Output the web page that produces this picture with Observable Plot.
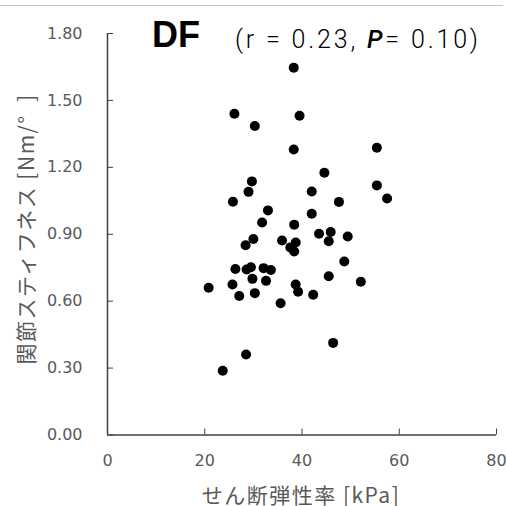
<!DOCTYPE html>
<html><head><meta charset="utf-8">
<script src="https://cdn.jsdelivr.net/npm/d3@7"></script>
<script src="https://cdn.jsdelivr.net/npm/@observablehq/plot@0.6"></script>
<style>
body{margin:0;background:#fff;}
#wrap{position:relative;width:506px;height:506px;overflow:hidden;}
#wrap svg{position:absolute;left:0;top:0;}
#topline{position:absolute;left:0;top:5px;width:503px;height:1px;background:#c6c6c6;}
</style></head><body>
<div id="wrap"></div>
<script>
// せん断弾性率 [kPa]
const shearModulus = [38.3, 26.1, 30.3, 39.5, 38.3, 55.4, 44.6, 29.7, 29.0, 42.0, 55.4, 25.8, 47.6, 57.5, 33.0, 42.0, 31.8, 38.4, 43.5, 45.9, 49.4, 45.5, 30.0, 28.4, 35.9, 38.7, 37.6, 38.4, 48.7, 26.3, 28.6, 29.5, 32.1, 33.6, 29.8, 32.6, 25.7, 20.8, 27.1, 30.3, 38.7, 39.2, 42.3, 35.6, 45.5, 52.1, 46.4, 28.5, 23.7];
// 関節スティフネス [Nm/°]
const jointStiffness = [1.647, 1.440, 1.385, 1.431, 1.280, 1.288, 1.176, 1.137, 1.090, 1.092, 1.119, 1.046, 1.045, 1.060, 1.007, 0.992, 0.953, 0.943, 0.902, 0.910, 0.890, 0.869, 0.879, 0.851, 0.872, 0.863, 0.841, 0.823, 0.778, 0.744, 0.742, 0.752, 0.748, 0.740, 0.700, 0.691, 0.675, 0.660, 0.623, 0.636, 0.675, 0.642, 0.629, 0.591, 0.712, 0.687, 0.413, 0.361, 0.288];
const xTicks = [0, 20, 40, 60, 80];
const yTicks = [0, 0.3, 0.6, 0.9, 1.2, 1.5, 1.8];
const titleText = "DF";
const statsText = ["(r = 0.23, ", "P", "= 0.10)"];
const xLabel = "せん断弾性率 [kPa]";
const yLabel = "関節スティフネス [Nm/°\u00a0\u00a0]";

const data = shearModulus.map((x, i) => ({x, y: jointStiffness[i]}));
const axisColor = "#404040", labelColor = "#595959";

const svg = Plot.plot({
  width: 506, height: 506,
  marginLeft: 107, marginRight: 10, marginTop: 33, marginBottom: 71.5,
  style: {fontFamily: "DejaVu Sans", fontSize: "16px", background: "white", overflow: "visible"},
  x: {domain: [0, 80], ticks: xTicks},
  y: {domain: [0, 1.8], ticks: yTicks},
  marks: [
    Plot.axisY(yTicks, {anchor: "left", tickSize: -6, tickPadding: 31, tickFormat: d3.format(".2f"),
      fill: labelColor, stroke: axisColor, label: null}),
    Plot.axisX(xTicks, {anchor: "bottom", tickSize: -6, tickPadding: 26, tickFormat: d3.format("d"),
      fill: labelColor, stroke: axisColor, label: null}),
    Plot.ruleX([0], {stroke: axisColor, strokeWidth: 1.5}),
    Plot.ruleY([0], {stroke: axisColor, strokeWidth: 1.5}),
    Plot.dot(data, {x: "x", y: "y", r: 5, fill: "black", stroke: "none"})
  ]
});
const wrap = document.getElementById("wrap");
wrap.appendChild(svg);
const line = document.createElement("div"); line.id = "topline"; wrap.appendChild(line);

const s = d3.select(svg);
s.append("text").attr("x", 152).attr("y", 47).attr("text-anchor", "start")
  .attr("font-family", "Liberation Sans, Arial, sans-serif").attr("font-weight", "bold")
  .attr("font-size", 36).attr("fill", "black").text(titleText);
const st = s.append("text").attr("x", 235).attr("y", 48).attr("text-anchor", "start")
  .attr("font-family", "Roboto, DejaVu Sans").attr("font-weight", 300)
  .attr("font-size", 25).attr("fill", "black")
  .attr("textLength", 243).attr("lengthAdjust", "spacing");
st.append("tspan").text(statsText[0]);
st.append("tspan").attr("font-style", "italic").attr("font-weight", 500).text(statsText[1]);
st.append("tspan").text(statsText[2]);

s.append("text").attr("x", 301).attr("y", 503).attr("text-anchor", "middle")
  .attr("font-family", "Noto Sans CJK JP").attr("font-size", 21).attr("letter-spacing", 1.5)
  .attr("fill", labelColor).text(xLabel);
s.append("text").attr("transform", "translate(25,229) rotate(-90)").attr("text-anchor", "middle")
  .attr("dominant-baseline", "central").attr("letter-spacing", 1.5)
  .attr("font-family", "Noto Sans CJK JP").attr("font-size", 21).attr("fill", labelColor).text(yLabel);
</script>
</body></html>
